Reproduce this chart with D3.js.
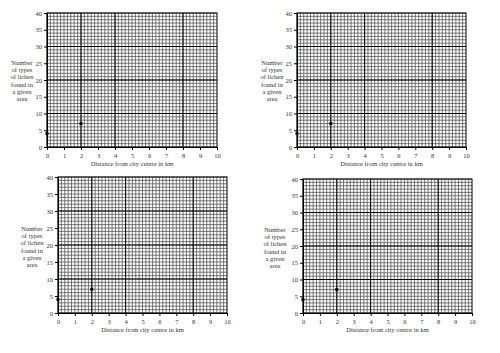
<!DOCTYPE html>
<html>
<head>
<meta charset="utf-8">
<script src="https://cdn.jsdelivr.net/npm/d3@7"></script>
<style>
  body { margin: 0; background: #fff; }
  text { font-family: "Liberation Serif", "DejaVu Serif", serif; fill: #333; }
</style>
</head>
<body>
<svg width="500" height="353"></svg>
<script>
const svg = d3.select('svg');

// data (same in all four panels)
const distance = [0, 2];
const lichenTypes = [4, 7];
const xTicks = [0, 1, 2, 3, 4, 5, 6, 7, 8, 9, 10];
const yTicks = [0, 5, 10, 15, 20, 25, 30, 35, 40];
const boldX = [2, 4, 8];
const boldY = [10, 20, 30];
const yLabelLines = ['Number', 'of types', 'of lichen', 'found in', 'a given', 'area'];
const xLabel = 'Distance from city centre in km';

// panel boxes: plot area and where the y label sits
const panels = [
    {left: 47, top: 13, right: 217, bottom: 147, labX: 22, labY: 65},
    {left: 297, top: 13, right: 466, bottom: 147, labX: 272, labY: 65},
    {left: 58, top: 177, right: 227, bottom: 313, labX: 32, labY: 231},
    {left: 303, top: 179, right: 472, bottom: 313, labX: 275, labY: 232}
];

const drawPanel = p => {
    const g = svg.append('g');

    const xscale = d3.scaleLinear().domain([0, 10]).range([p.left, p.right]);
    const yscale = d3.scaleLinear().domain([0, 40]).range([p.bottom, p.top]);

    // minor grid
    g.selectAll('.vminor')
        .data(d3.range(0, 50).map(i => i / 5))
        .enter().append('line')
        .attr('x1', d => xscale(d)).attr('x2', d => xscale(d))
        .attr('y1', p.top).attr('y2', p.bottom)
        .attr('stroke', '#444').attr('stroke-width', 0.7);

    g.selectAll('.hminor')
        .data(d3.range(0, 41))
        .enter().append('line')
        .attr('y1', d => yscale(d)).attr('y2', d => yscale(d))
        .attr('x1', p.left).attr('x2', p.right)
        .attr('stroke', '#444').attr('stroke-width', 0.7);

    // bold grid
    g.selectAll('.vbold')
        .data(boldX)
        .enter().append('line')
        .attr('x1', d => xscale(d)).attr('x2', d => xscale(d))
        .attr('y1', p.top).attr('y2', p.bottom)
        .attr('stroke', '#000').attr('stroke-width', 1);

    g.selectAll('.hbold')
        .data(boldY)
        .enter().append('line')
        .attr('y1', d => yscale(d)).attr('y2', d => yscale(d))
        .attr('x1', p.left).attr('x2', p.right)
        .attr('stroke', '#000').attr('stroke-width', 1);

    g.append('rect')
        .attr('x', p.left).attr('y', p.top)
        .attr('width', p.right - p.left).attr('height', p.bottom - p.top)
        .attr('fill', 'none').attr('stroke', '#000').attr('stroke-width', 1);

    // axes
    const xaxisG = g.append('g')
        .attr('transform', 'translate(0,' + p.bottom + ')')
        .call(d3.axisBottom(xscale).tickValues(xTicks).tickSize(3).tickPadding(3));
    const yaxisG = g.append('g')
        .attr('transform', 'translate(' + p.left + ',0)')
        .call(d3.axisLeft(yscale).tickValues(yTicks).tickSize(3).tickPadding(2));

    [xaxisG, yaxisG].forEach(a => {
        a.select('.domain').attr('stroke', '#000');
        a.selectAll('.tick line').attr('stroke', '#000');
        a.selectAll('.tick text')
            .style('font-family', '"Liberation Serif", serif')
            .style('font-size', '6.5px')
            .attr('fill', '#444');
    });

    g.append('text')
        .attr('x', (p.left + p.right) / 2)
        .attr('y', p.bottom + 19)
        .attr('text-anchor', 'middle')
        .style('font-size', '6.5px')
        .text(xLabel);

    g.append('text')
        .attr('text-anchor', 'middle')
        .style('font-size', '6.5px')
        .selectAll('tspan')
        .data(yLabelLines)
        .enter().append('tspan')
        .attr('x', p.labX)
        .attr('y', (d, i) => p.labY + i * 7.2)
        .text(d => d);

    // plotted points
    g.selectAll('.pt')
        .data(distance)
        .enter().append('rect')
        .attr('x', (d, i) => xscale(d) - 1.5)
        .attr('y', (d, i) => yscale(lichenTypes[i]) - 1.5)
        .attr('width', 3).attr('height', 3)
        .attr('fill', '#000');
};

panels.forEach(drawPanel);
</script>
</body>
</html>
